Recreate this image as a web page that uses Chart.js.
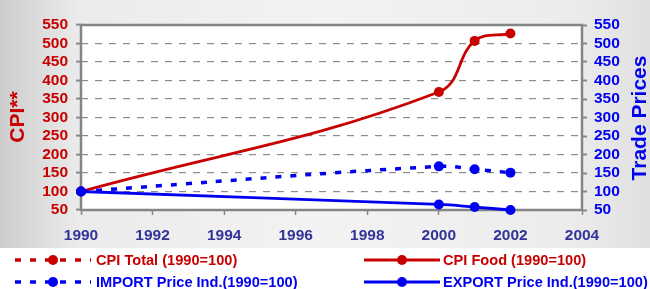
<!DOCTYPE html>
<html>
<head>
<meta charset="utf-8">
<script src="https://cdn.jsdelivr.net/npm/chart.js@4/dist/chart.umd.min.js"></script>
<style>
    html, body { margin: 0; padding: 0; background: #fff; }
    #wrap { width: 650px; height: 289px; }
</style>
</head>
<body>
<div id="wrap"><canvas id="myChart" width="650" height="289"></canvas></div>
<script>
let years = [1990, 2000, 2001, 2002];
let cpiTotal = [null, null, null, null];
let cpiFood = [100, 369, 507, 527];
let importPrice = [100, 168, 160, 151];
let exportPrice = [100, 65, 58, 50];

let seriesLabels = ['CPI Total (1990=100)', 'CPI Food (1990=100)', 'IMPORT Price Ind.(1990=100)', 'EXPORT Price Ind.(1990=100)'];
let leftTitle = 'CPI**';
let rightTitle = 'Trade Prices';

const RED = '#c80000';
const BLUE = '#0000f0';
const FONT = '"Liberation Sans", Arial, sans-serif';

/*Helpers*/

function toPoints(values) {
    return years.map((year, i) => ({ x: year, y: values[i] }));
}


function makeDataset(label, values, color, dashed, order) {
    return {
        label: label,
        data: toPoints(values),
        borderColor: color,
        backgroundColor: color,
        borderWidth: dashed ? 3.5 : 2.8,
        borderDash: dashed ? [6, 9] : [],
        pointRadius: 5,
        pointHoverRadius: 5,
        pointBorderWidth: 0,
        tension: 0.4,
        clip: false,
        order: order,
        yAxisID: 'y'
    };
}

/*Plugins*/

const backgroundPlugin = {
    id: 'background',
    beforeDraw(chart) {
        const ctx = chart.ctx;
        const area = chart.chartArea;
        ctx.save();
        let grad = ctx.createLinearGradient(0, 0, chart.width, 0);
        grad.addColorStop(0, '#cdcdcd');
        grad.addColorStop(0.12, '#ebebeb');
        grad.addColorStop(0.5, '#f3f3f3');
        grad.addColorStop(0.88, '#ececec');
        grad.addColorStop(1, '#e0e0e0');
        ctx.fillStyle = grad;
        ctx.fillRect(0, 0, chart.width, 248);
        ctx.fillStyle = '#ffffff';
        ctx.fillRect(0, 248, chart.width, chart.height - 248);
        ctx.fillRect(area.left, area.top, area.right - area.left, area.bottom - area.top);
        ctx.restore();
    }
};


const framePlugin = {
    id: 'frame',
    beforeDatasetsDraw(chart) {
        const ctx = chart.ctx;
        const area = chart.chartArea;
        ctx.save();
        ctx.strokeStyle = '#858585';
        ctx.lineWidth = 2.5;
        ctx.strokeRect(area.left, area.top, area.right - area.left, area.bottom - area.top);
        ctx.restore();
    }
};


function drawLegendItem(ctx, dataset, x1, x2, xm, xt, y) {
    ctx.save();
    ctx.strokeStyle = dataset.borderColor;
    ctx.lineWidth = dataset.borderDash.length ? 3.5 : 2.8;
    ctx.setLineDash(dataset.borderDash);
    ctx.beginPath();
    ctx.moveTo(x1, y);
    ctx.lineTo(x2, y);
    ctx.stroke();
    ctx.setLineDash([]);
    ctx.fillStyle = dataset.borderColor;
    ctx.beginPath();
    ctx.arc(xm, y, 5, 0, Math.PI * 2);
    ctx.fill();
    ctx.font = 'bold 14.6px ' + FONT;
    ctx.textBaseline = 'middle';
    ctx.textAlign = 'left';
    ctx.fillText(dataset.label, xt, y + 1);
    ctx.restore();
}


function drawAxisTitle(ctx, text, color, x, y) {
    ctx.save();
    ctx.translate(x, y);
    ctx.rotate(-Math.PI / 2);
    ctx.font = 'bold 21px ' + FONT;
    ctx.fillStyle = color;
    ctx.textAlign = 'center';
    ctx.textBaseline = 'middle';
    ctx.fillText(text, 0, 0);
    ctx.restore();
}


const legendPlugin = {
    id: 'customLegend',
    afterDraw(chart) {
        const ctx = chart.ctx;
        const sets = chart.data.datasets;
        drawLegendItem(ctx, sets[0], 15, 91, 53, 96, 260);
        drawLegendItem(ctx, sets[1], 364, 440, 402, 443, 260);
        drawLegendItem(ctx, sets[2], 15, 91, 53, 96, 282);
        drawLegendItem(ctx, sets[3], 364, 440, 402, 443, 282);
        drawAxisTitle(ctx, leftTitle, RED, 18, 117);
        drawAxisTitle(ctx, rightTitle, BLUE, 640, 118);
    }
};

/*Chart*/

function tickFont() {
    return { family: FONT, size: 15.5, weight: 'bold', lineHeight: 1 };
}


function setChart() {
    const ctx = document.getElementById('myChart');
    new Chart(ctx, {
        type: 'line',
        data: {
            datasets: [
                makeDataset(seriesLabels[0], cpiTotal, RED, true, 3),
                makeDataset(seriesLabels[1], cpiFood, RED, false, 2),
                makeDataset(seriesLabels[2], importPrice, BLUE, true, 1),
                makeDataset(seriesLabels[3], exportPrice, BLUE, false, 0)
            ]
        },
        options: {
            responsive: false,
            animation: false,
            layout: { padding: { top: 25, left: 0, right: 0, bottom: 0 } },
            plugins: {
                legend: { display: false },
                tooltip: { enabled: false },
                title: { display: false }
            },
            scales: {
                x: {
                    type: 'linear',
                    min: 1990,
                    max: 2004,
                    afterFit(scale) { scale.height = 79; },
                    grid: { drawOnChartArea: false, tickLength: 5, color: '#888', tickWidth: 1.5 },
                    border: { display: false },
                    ticks: {
                        stepSize: 2,
                        padding: 13,
                        color: '#333399',
                        font: tickFont(),
                        callback: (v) => String(v)
                    }
                },
                y: {
                    position: 'left',
                    min: 50,
                    max: 550,
                    afterFit(scale) { scale.width = 81; },
                    grid: { color: '#8c8c8c', lineWidth: 1.2, tickLength: 5, tickColor: '#888', tickWidth: 2, tickBorderDash: [] },
                    border: { display: false, dash: [7, 7] },
                    ticks: { stepSize: 50, autoSkip: false, padding: 8, color: RED, font: tickFont() }
                },
                y1: {
                    position: 'right',
                    min: 50,
                    max: 550,
                    afterFit(scale) { scale.width = 68; },
                    grid: { drawOnChartArea: false, tickLength: 5, color: '#888', tickWidth: 2 },
                    border: { display: false },
                    ticks: { stepSize: 50, autoSkip: false, padding: 7, color: BLUE, font: tickFont() }
                }
            }
        },
        plugins: [backgroundPlugin, framePlugin, legendPlugin]
    });
}

setChart();
</script>
</body>
</html>
